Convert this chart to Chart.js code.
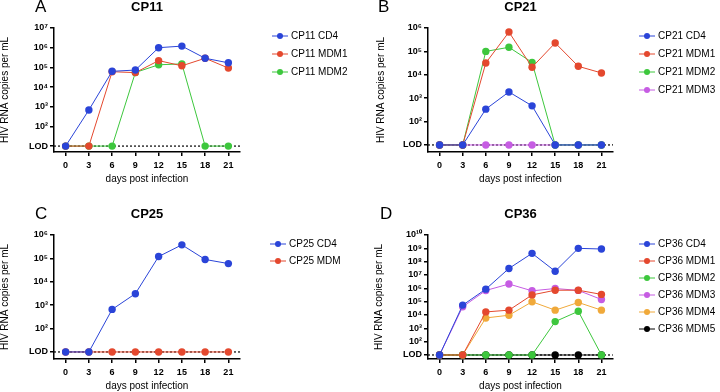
<!DOCTYPE html>
<html>
<head>
<meta charset="utf-8">
<script src="https://cdn.jsdelivr.net/npm/chart.js@4.4.1/dist/chart.umd.min.js"></script>
<style>
  body { margin: 0; width: 720px; height: 392px; overflow: hidden; background: #fff; position: relative;
         font-family: "Liberation Sans", Arial, Helvetica, sans-serif; }
  .panel { position: absolute; width: 360px; height: 196px; }
  .letter { position: absolute; font-size: 17px; line-height: 17px; color: #000; }
</style>
</head>
<body>
<div class="panel" style="left:0;top:0"><canvas id="chartA" width="360" height="196"></canvas></div>
<div class="panel" style="left:360px;top:0"><canvas id="chartB" width="360" height="196"></canvas></div>
<div class="panel" style="left:0;top:207px"><canvas id="chartC" width="360" height="196"></canvas></div>
<div class="panel" style="left:360px;top:207px"><canvas id="chartD" width="360" height="196"></canvas></div>
<div class="letter" style="left:35px;top:-2px">A</div>
<div class="letter" style="left:378px;top:-2px">B</div>
<div class="letter" style="left:35px;top:205px">C</div>
<div class="letter" style="left:380px;top:205px">D</div>
<script>
const FONT = '"Liberation Sans", Arial, Helvetica, sans-serif';
const LOD = 10;
const days = ['0', '3', '6', '9', '12', '15', '18', '21'];

const BLUE = '#2a44d8';
const RED = '#e4482e';
const GREEN = '#3dc73d';
const PURPLE = '#c65ce3';
const ORANGE = '#f0a93a';
const BLACK = '#000000';

// CP11
const cp11CD4  = [LOD, 680, 63000, 73000, 1000000, 1200000, 290000, 170000];
const cp11MDM1 = [LOD, LOD, 60000, 54000, 220000, 120000, 290000, 92000];
const cp11MDM2 = [LOD, LOD, LOD, 55000, 135000, 150000, LOD, LOD];
const cp11Ticks = [10, 1e2, 1e3, 1e4, 1e5, 1e6, 1e7];
const cp11TickLabels = ['LOD', '10²', '10³', '10⁴', '10⁵', '10⁶', '10⁷'];

// CP21
const cp21CD4  = [LOD, LOD, 340, 1850, 470, LOD, LOD, LOD];
const cp21MDM1 = [LOD, LOD, 32000, 670000, 21000, 230000, 23000, 12000];
const cp21MDM2 = [LOD, LOD, 100000, 150000, 34000, LOD, LOD, LOD];
const cp21MDM3 = [LOD, LOD, LOD, LOD, LOD, LOD, LOD, LOD];
const cp21Ticks = [10, 1e2, 1e3, 1e4, 1e5, 1e6];
const cp21TickLabels = ['LOD', '10²', '10³', '10⁴', '10⁵', '10⁶'];

// CP25
const cp25CD4 = [LOD, LOD, 660, 3100, 120000, 380000, 90000, 60000];
const cp25MDM = [LOD, LOD, LOD, LOD, LOD, LOD, LOD, LOD];
const cp25Ticks = [10, 1e2, 1e3, 1e4, 1e5, 1e6];
const cp25TickLabels = ['LOD', '10²', '10³', '10⁴', '10⁵', '10⁶'];

// CP36
const cp36CD4  = [LOD, 55000, 870000, 31000000, 420000000, 19000000, 1000000000, 890000000];
const cp36MDM1 = [LOD, LOD, 17000, 23000, 320000, 720000, 720000, 350000];
const cp36MDM2 = [LOD, LOD, LOD, LOD, LOD, 3200, 19000, LOD];
const cp36MDM3 = [LOD, 41000, 690000, 2100000, 650000, 970000, 700000, 145000];
const cp36MDM4 = [LOD, LOD, 6000, 9600, 98000, 23000, 87000, 23000];
const cp36MDM5 = [LOD, LOD, LOD, LOD, LOD, LOD, LOD, LOD];
const cp36Ticks = [10, 1e2, 1e3, 1e4, 1e5, 1e6, 1e7, 1e8, 1e9, 1e10];
const cp36TickLabels = ['LOD', '10²', '10³', '10⁴', '10⁵', '10⁶', '10⁷', '10⁸', '10⁹', '10¹⁰'];

// dotted limit-of-detection line
const lodLine = {
  id: 'lodLine',
  beforeDatasetsDraw(chart) {
    const { ctx, chartArea, scales } = chart;
    const y = scales.y.getPixelForValue(LOD);
    ctx.save();
    ctx.setLineDash([2, 2]);
    ctx.strokeStyle = '#000';
    ctx.lineWidth = 1.2;
    ctx.beginPath();
    ctx.moveTo(chartArea.left, y);
    ctx.lineTo(chartArea.right, y);
    ctx.stroke();
    ctx.restore();
  }
};

// legend with line + dot symbols, drawn to the right of the plot
const sideLegend = {
  id: 'sideLegend',
  afterDraw(chart, args, opts) {
    const ctx = chart.ctx;
    ctx.save();
    ctx.font = '10px ' + FONT;
    ctx.textBaseline = 'middle';
    chart.data.datasets.forEach((ds, i) => {
      const y = opts.y + i * opts.step;
      ctx.strokeStyle = ds.borderColor;
      ctx.lineWidth = 1;
      ctx.beginPath();
      ctx.moveTo(opts.x - 8, y);
      ctx.lineTo(opts.x + 8, y);
      ctx.stroke();
      ctx.fillStyle = ds.borderColor;
      ctx.beginPath();
      ctx.arc(opts.x, y, 3, 0, Math.PI * 2);
      ctx.fill();
      ctx.fillStyle = '#000';
      ctx.fillText(ds.label, opts.x + 11, y);
    });
    ctx.restore();
  }
};

function makePanel(id, title, series, tickValues, tickLabels, p) {
  new Chart(document.getElementById(id), {
    type: 'line',
    data: {
      labels: days,
      datasets: series.map(s => ({
        label: s.label,
        data: s.data,
        borderColor: s.color,
        backgroundColor: s.color,
        borderWidth: 1,
        pointRadius: 3.7,
        pointBorderWidth: 0,
        pointBackgroundColor: s.color,
        tension: 0
      }))
    },
    options: {
      responsive: false,
      animation: false,
      events: [],
      layout: { padding: { left: p.left, right: p.right, top: 0, bottom: 11 } },
      plugins: {
        legend: { display: false },
        tooltip: { enabled: false },
        title: {
          display: true,
          text: title,
          fullSize: false,
          color: '#000',
          font: { family: FONT, size: 13, weight: 'bold' },
          padding: { top: 0, bottom: 12.4 }
        },
        sideLegend: p.legend
      },
      scales: {
        x: {
          type: 'category',
          offset: true,
          grid: { display: true, drawOnChartArea: false, offset: false, tickLength: 4, color: '#000', lineWidth: 1.5 },
          border: { color: '#000', width: 1.5 },
          ticks: { color: '#000', padding: 4, maxRotation: 0, font: { family: FONT, size: 9, weight: 'bold' } },
          title: { display: true, text: 'days post infection', color: '#000', padding: 0, font: { family: FONT, size: 10 } },
          afterFit(scale) { scale.height = 33; }
        },
        y: {
          type: 'logarithmic',
          min: 5,
          max: tickValues[tickValues.length - 1],
          afterBuildTicks(scale) { scale.ticks = tickValues.map(v => ({ value: v })); },
          grid: { display: true, drawOnChartArea: false, tickLength: 4, color: '#000', lineWidth: 1.5 },
          border: { color: '#000', width: 1.5 },
          ticks: {
            autoSkip: false,
            color: '#000',
            padding: 2,
            font: { family: FONT, size: 9, weight: 'bold' },
            callback: (value, index) => tickLabels[index]
          },
          title: {
            display: true,
            text: 'HIV RNA copies per mL',
            color: '#000',
            padding: { top: p.titlePad, bottom: 0 },
            font: { family: FONT, size: 10, lineHeight: 1 }
          },
          afterFit(scale) { scale.width = 54; }
        }
      }
    },
    plugins: [lodLine, sideLegend]
  });
}

makePanel('chartA', 'CP11', [
  { label: 'CP11 CD4', data: cp11CD4, color: BLUE },
  { label: 'CP11 MDM1', data: cp11MDM1, color: RED },
  { label: 'CP11 MDM2', data: cp11MDM2, color: GREEN }
], cp11Ticks, cp11TickLabels, { left: 0, right: 120, titlePad: 0, legend: { x: 280, y: 36, step: 18 } });

makePanel('chartB', 'CP21', [
  { label: 'CP21 CD4', data: cp21CD4, color: BLUE },
  { label: 'CP21 MDM1', data: cp21MDM1, color: RED },
  { label: 'CP21 MDM2', data: cp21MDM2, color: GREEN },
  { label: 'CP21 MDM3', data: cp21MDM3, color: PURPLE }
], cp21Ticks, cp21TickLabels, { left: 14, right: 107, titlePad: 2, legend: { x: 287, y: 36, step: 18 } });

makePanel('chartC', 'CP25', [
  { label: 'CP25 CD4', data: cp25CD4, color: BLUE },
  { label: 'CP25 MDM', data: cp25MDM, color: RED }
], cp25Ticks, cp25TickLabels, { left: 0, right: 120, titlePad: 0, legend: { x: 278, y: 37, step: 17 } });

makePanel('chartD', 'CP36', [
  { label: 'CP36 CD4', data: cp36CD4, color: BLUE },
  { label: 'CP36 MDM1', data: cp36MDM1, color: RED },
  { label: 'CP36 MDM2', data: cp36MDM2, color: GREEN },
  { label: 'CP36 MDM3', data: cp36MDM3, color: PURPLE },
  { label: 'CP36 MDM4', data: cp36MDM4, color: ORANGE },
  { label: 'CP36 MDM5', data: cp36MDM5, color: BLACK }
], cp36Ticks, cp36TickLabels, { left: 14, right: 107, titlePad: 0, legend: { x: 287, y: 37, step: 17 } });
</script>
</body>
</html>
